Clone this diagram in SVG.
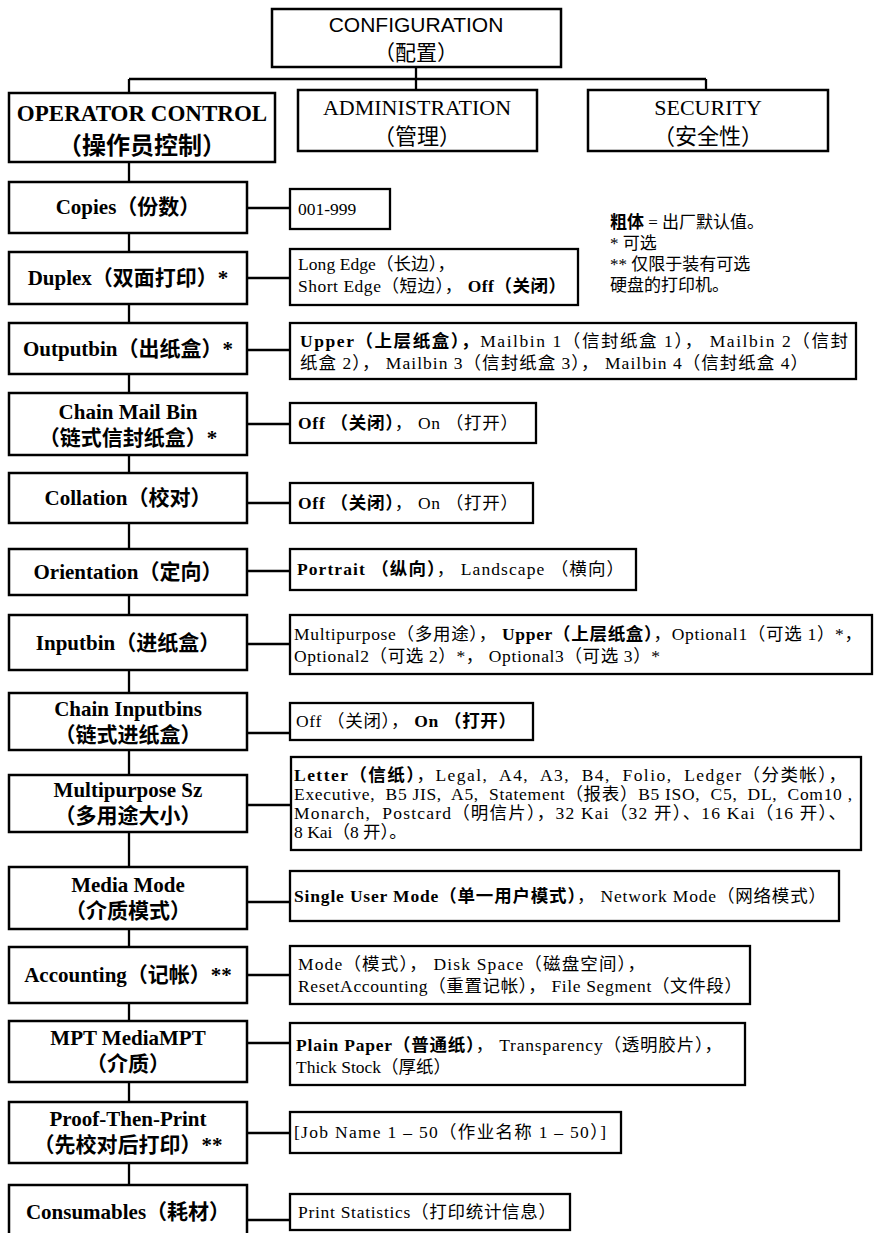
<svg xmlns="http://www.w3.org/2000/svg" width="875" height="1233" viewBox="0 0 875 1233">
<style>
.bx{fill:#fff;stroke:#000;stroke-width:2.5}
.vb{fill:#fff;stroke:#000;stroke-width:2.3}
.cn{stroke:#000;stroke-width:2.3;fill:none}
.lb{font-family:"Liberation Serif","Noto Sans CJK SC",serif;font-size:21px;font-weight:bold;text-anchor:middle;fill:#000}
.oc{font-family:"Liberation Serif","Noto Sans CJK SC",serif;font-size:23px;font-weight:bold;text-anchor:middle;fill:#000}
.tp{font-family:"Liberation Serif","Noto Sans CJK SC",serif;font-size:22px;text-anchor:middle;fill:#000}
.sa{font-family:"Liberation Sans","Noto Sans CJK SC",sans-serif;font-size:21px;text-anchor:middle;fill:#000}
.vt{font-family:"Liberation Serif","Noto Sans CJK SC",serif;font-size:17.5px;fill:#000;white-space:pre}
.nt{font-family:"Liberation Serif","Noto Sans CJK SC",serif;font-size:17px;fill:#000}
.b{font-weight:bold}
</style>
<g id="connectors">
<line class="cn" x1="416" y1="67" x2="416" y2="79"/>
<line class="cn" x1="129" y1="79" x2="706" y2="79"/>
<line class="cn" x1="416" y1="79" x2="416" y2="90"/>
<line class="cn" x1="706" y1="79" x2="706" y2="90"/>
<line class="cn" x1="129" y1="79" x2="129" y2="1233"/>
<line class="cn" x1="247" y1="208" x2="290" y2="208"/>
<line class="cn" x1="247" y1="278" x2="290" y2="278"/>
<line class="cn" x1="247" y1="350" x2="290" y2="350"/>
<line class="cn" x1="247" y1="424" x2="290" y2="424"/>
<line class="cn" x1="247" y1="503" x2="290" y2="503"/>
<line class="cn" x1="247" y1="571" x2="290" y2="571"/>
<line class="cn" x1="247" y1="644" x2="290" y2="644"/>
<line class="cn" x1="247" y1="733" x2="290" y2="733"/>
<line class="cn" x1="247" y1="805" x2="291" y2="805"/>
<line class="cn" x1="247" y1="902" x2="290" y2="902"/>
<line class="cn" x1="247" y1="975" x2="290" y2="975"/>
<line class="cn" x1="247" y1="1043" x2="290" y2="1043"/>
<line class="cn" x1="247" y1="1133" x2="290" y2="1133"/>
<line class="cn" x1="247" y1="1220" x2="290" y2="1220"/>
</g>
<g id="configuration">
<rect class="bx" x="272" y="9" width="289" height="58"/>
<text class="sa" x="416" y="32">CONFIGURATION</text>
<text class="sa" x="416" y="60">（配置）</text>
</g>
<g id="operator-control">
<rect class="bx" x="9" y="93" width="266" height="69"/>
<text class="oc" x="142" y="121">OPERATOR CONTROL</text>
<text class="oc" x="142" y="154" style="font-size:24px">（操作员控制）</text>
</g>
<g id="administration">
<rect class="bx" x="298" y="90" width="239" height="61"/>
<text class="tp" x="417" y="115">ADMINISTRATION</text>
<text class="tp" x="417" y="144">（管理）</text>
</g>
<g id="security">
<rect class="bx" x="588" y="90" width="240" height="61"/>
<text class="tp" x="708" y="115">SECURITY</text>
<text class="tp" x="708" y="144">（安全性）</text>
</g>
<g id="legend">
<text class="nt" x="610" y="228"><tspan class="b">粗体</tspan> = 出厂默认值。</text>
<text class="nt" x="610" y="249">* 可选</text>
<text class="nt" x="610" y="270">** 仅限于装有可选</text>
<text class="nt" x="610" y="291">硬盘的打印机。</text>
</g>
<g id="copies">
<rect class="bx" x="9" y="182" width="238" height="51"/>
<text class="lb" x="128" y="214">Copies（份数）</text>
</g>
<g id="copies-values">
<rect class="vb" x="290" y="189" width="100" height="40"/>
<text class="vt" x="298" y="215">001-999</text>
</g>
<g id="duplex">
<rect class="bx" x="9" y="252" width="238" height="52"/>
<text class="lb" x="128" y="285">Duplex（双面打印）*</text>
</g>
<g id="duplex-values">
<rect class="vb" x="290" y="249" width="288" height="56"/>
<text class="vt" x="298" y="270" textLength="157">Long Edge（长边），</text>
<text class="vt" x="298" y="292" textLength="268">Short Edge（短边）， <tspan class="b">Off（关闭）</tspan></text>
</g>
<g id="outputbin">
<rect class="bx" x="9" y="323" width="238" height="51"/>
<text class="lb" x="128" y="356">Outputbin（出纸盒）*</text>
</g>
<g id="outputbin-values">
<rect class="vb" x="290" y="323" width="566" height="56"/>
<text class="vt" x="300" y="347" textLength="548"><tspan class="b">Upper（上层纸盒），</tspan>Mailbin 1（信封纸盒 1）， Mailbin 2（信封</text>
<text class="vt" x="300" y="369" textLength="508">纸盒 2）， Mailbin 3（信封纸盒 3）， Mailbin 4（信封纸盒 4）</text>
</g>
<g id="chain-mail-bin">
<rect class="bx" x="9" y="393" width="238" height="62"/>
<text class="lb" x="128" y="419">Chain Mail Bin</text>
<text class="lb" x="128" y="445">（链式信封纸盒）*</text>
</g>
<g id="chain-mail-bin-values">
<rect class="vb" x="290" y="403" width="246" height="40"/>
<text class="vt" x="298" y="429" textLength="220"><tspan class="b">Off （关闭）</tspan>， On （打开）</text>
</g>
<g id="collation">
<rect class="bx" x="9" y="473" width="238" height="50"/>
<text class="lb" x="128" y="505">Collation（校对）</text>
</g>
<g id="collation-values">
<rect class="vb" x="290" y="483" width="243" height="40"/>
<text class="vt" x="298" y="509" textLength="220"><tspan class="b">Off （关闭）</tspan>， On （打开）</text>
</g>
<g id="orientation">
<rect class="bx" x="9" y="549" width="238" height="46"/>
<text class="lb" x="128" y="579">Orientation（定向）</text>
</g>
<g id="orientation-values">
<rect class="vb" x="290" y="549" width="346" height="41"/>
<text class="vt" x="297" y="575" textLength="327"><tspan class="b">Portrait （纵向）</tspan>， Landscape （横向）</text>
</g>
<g id="inputbin">
<rect class="bx" x="9" y="615" width="238" height="55"/>
<text class="lb" x="128" y="650">Inputbin（进纸盒）</text>
</g>
<g id="inputbin-values">
<rect class="vb" x="290" y="615" width="582" height="59"/>
<text class="vt" x="294" y="640" textLength="568">Multipurpose（多用途）， <tspan class="b">Upper（上层纸盒）</tspan>，Optional1（可选 1）*，</text>
<text class="vt" x="294" y="662" textLength="366">Optional2（可选 2）*， Optional3（可选 3）*</text>
</g>
<g id="chain-inputbins">
<rect class="bx" x="9" y="693" width="238" height="57"/>
<text class="lb" x="128" y="716">Chain Inputbins</text>
<text class="lb" x="128" y="742">（链式进纸盒）</text>
</g>
<g id="chain-inputbins-values">
<rect class="vb" x="290" y="703" width="243" height="37"/>
<text class="vt" x="296" y="727" textLength="220">Off （关闭）， <tspan class="b">On （打开）</tspan></text>
</g>
<g id="multipurpose-sz">
<rect class="bx" x="9" y="775" width="238" height="57"/>
<text class="lb" x="128" y="797">Multipurpose Sz</text>
<text class="lb" x="128" y="823">（多用途大小）</text>
</g>
<g id="multipurpose-sz-values">
<rect class="vb" x="291" y="757" width="570" height="93"/>
<text class="vt" x="294" y="781" textLength="552"><tspan class="b">Letter（信纸）</tspan>，Legal,  A4,  A3,  B4,  Folio,  Ledger（分类帐），</text>
<text class="vt" x="294" y="800" textLength="558">Executive,  B5 JIS,  A5,  Statement（报表）B5 ISO,  C5,  DL,  Com10 ,</text>
<text class="vt" x="294" y="819" textLength="552">Monarch,  Postcard（明信片），32 Kai（32 开）、16 Kai（16 开）、</text>
<text class="vt" x="294" y="838">8 Kai（8 开）。</text>
</g>
<g id="media-mode">
<rect class="bx" x="9" y="867" width="238" height="62"/>
<text class="lb" x="128" y="892">Media Mode</text>
<text class="lb" x="128" y="918">（介质模式）</text>
</g>
<g id="media-mode-values">
<rect class="vb" x="290" y="871" width="549" height="50"/>
<text class="vt" x="294" y="902" textLength="532"><tspan class="b">Single User Mode（单一用户模式）</tspan>， Network Mode（网络模式）</text>
</g>
<g id="accounting">
<rect class="bx" x="9" y="947" width="238" height="56"/>
<text class="lb" x="128" y="982">Accounting（记帐）**</text>
</g>
<g id="accounting-values">
<rect class="vb" x="290" y="946" width="460" height="58"/>
<text class="vt" x="298" y="970" textLength="347">Mode（模式）， Disk Space（磁盘空间），</text>
<text class="vt" x="298" y="992" textLength="444">ResetAccounting（重置记帐）， File Segment（文件段）</text>
</g>
<g id="mpt-media">
<rect class="bx" x="9" y="1021" width="238" height="61"/>
<text class="lb" x="128" y="1045">MPT MediaMPT</text>
<text class="lb" x="128" y="1071">（介质）</text>
</g>
<g id="mpt-media-values">
<rect class="vb" x="290" y="1023" width="455" height="62"/>
<text class="vt" x="296" y="1051" textLength="426"><tspan class="b">Plain Paper（普通纸）</tspan>， Transparency（透明胶片），</text>
<text class="vt" x="296" y="1073">Thick Stock（厚纸）</text>
</g>
<g id="proof-then-print">
<rect class="bx" x="9" y="1102" width="238" height="61"/>
<text class="lb" x="128" y="1126">Proof-Then-Print</text>
<text class="lb" x="128" y="1152">（先校对后打印）**</text>
</g>
<g id="proof-then-print-values">
<rect class="vb" x="290" y="1112" width="331" height="41"/>
<text class="vt" x="294" y="1138" textLength="312">[Job Name 1 – 50（作业名称 1 – 50）]</text>
</g>
<g id="consumables">
<rect class="bx" x="9" y="1185" width="238" height="55"/>
<text class="lb" x="128" y="1219">Consumables（耗材）</text>
</g>
<g id="consumables-values">
<rect class="vb" x="290" y="1194" width="280" height="36"/>
<text class="vt" x="298" y="1218" textLength="258">Print Statistics（打印统计信息）</text>
</g>
</svg>
